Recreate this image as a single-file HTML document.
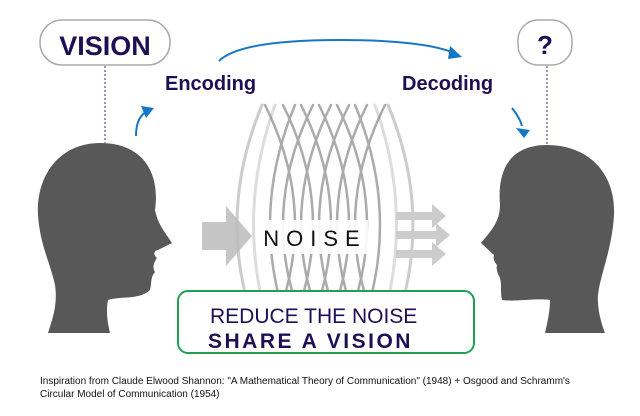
<!DOCTYPE html>
<html><head><style>
html,body{margin:0;padding:0;background:#fff;width:640px;height:416px;overflow:hidden;font-family:"Liberation Sans",sans-serif}
</style></head><body>
<svg width="640" height="416" viewBox="0 0 640 416" xmlns="http://www.w3.org/2000/svg">
<g fill="none" stroke-linecap="round">
  <g stroke="#ccc" stroke-width="3">
    <path d="M262 105 Q212 225 262 345"/>
    <path d="M388 105 Q438 225 388 345"/>
    <path d="M275 105 Q232 225 275 345" stroke="#ddd"/>
    <path d="M375 105 Q418 225 375 345" stroke="#ddd"/>
  </g>
  <g stroke="#888" stroke-width="2.5" opacity="0.7">
    <path d="M265 105 Q325 225 265 345"/><path d="M283 105 Q343 225 283 345"/><path d="M301 105 Q361 225 301 345"/><path d="M319 105 Q379 225 319 345"/><path d="M337 105 Q397 225 337 345"/><path d="M355 105 Q405 225 355 345"/>
    <path d="M385 105 Q325 225 385 345"/><path d="M367 105 Q307 225 367 345"/><path d="M349 105 Q289 225 349 345"/><path d="M331 105 Q271 225 331 345"/><path d="M313 105 Q253 225 313 345"/><path d="M295 105 Q245 225 295 345"/>
  </g>
</g>
<polygon points="202,222 226,222 226,206 252,236 226,266 226,250 202,250" fill="#bbb" opacity="0.85"/>
<g fill="#ccc">
<polygon points="396,212 432,212 432,204 446,216 432,228 432,220 396,220"/>
<polygon points="396,231 436,231 436,223 450,235 436,247 436,239 396,239"/>
<polygon points="396,250 432,250 432,242 446,254 432,266 432,258 396,258"/>
</g>
<rect x="262" y="220" width="106" height="34" fill="#fff" opacity="0.9"/>
<text x="315" y="246" text-anchor="middle" font-size="22" letter-spacing="7" fill="#111">NOISE</text>
<path d="M100 143 C60 143 36 175 38 215 C40 245 50 262 55 285 C58 305 52 320 48 333 L110 333 C107 320 106 310 108 300 C120 296 140 300 150 290 C152 283 150 278 155 272 C152 268 154 262 157 258 C152 254 155 250 158 250 L172 243 C165 232 158 225 155 210 C160 175 145 143 100 143 Z" fill="#585858"/>
<path d="M547 145 C590 145 616 175 614 215 C612 250 600 275 598 295 C597 310 602 325 605 333 L545 333 C548 320 550 310 550 300 C535 298 515 302 502 300 C500 292 502 285 500 278 C497 272 496 268 497 265 C494 262 493 258 494 255 L481 243 C490 232 500 222 500 205 C497 170 510 145 547 145Z" fill="#585858"/>
<rect x="40" y="20" width="130" height="45" rx="22" fill="#fff" stroke="#aaa" stroke-width="1.5"/>
<text x="105" y="55" text-anchor="middle" font-size="27" font-weight="bold" fill="#1e0f55">VISION</text>
<rect x="518" y="20" width="54" height="45" rx="20" fill="#fff" stroke="#aaa" stroke-width="1.5"/>
<text x="545" y="54" text-anchor="middle" font-size="26" font-weight="bold" fill="#1e0f55">?</text>
<line x1="105" y1="66" x2="105" y2="143" stroke="#3a2a80" stroke-width="1" stroke-dasharray="2,2"/>
<line x1="547" y1="66" x2="547" y2="145" stroke="#3a2a80" stroke-width="1" stroke-dasharray="2,2"/>
<text x="165" y="90" font-size="20" font-weight="bold" fill="#1e0f55">Encoding</text>
<text x="402" y="90" font-size="20" font-weight="bold" fill="#1e0f55">Decoding</text>
<g fill="none" stroke="#1677c4" stroke-width="2">
<path d="M136 136 Q136 118 146 112"/>
<path d="M219 61 Q240 40 340 40 Q420 40 452 52"/>
<path d="M512 108 Q520 118 522 126"/>
</g>
<g fill="#1677c4">
<polygon points="141,106 154,108 146,118"/>
<polygon points="450,46 462,57 448,59"/>
<polygon points="516,128 530,130 524,138"/>
</g>
<rect x="178" y="291" width="296" height="62" rx="10" fill="#fff" stroke="#20a050" stroke-width="2"/>
<text x="210" y="323" font-size="21" fill="#1e0f55">REDUCE THE NOISE</text>
<text x="208" y="348" font-size="21" font-weight="bold" letter-spacing="2.5" fill="#1e0f55">SHARE A VISION</text>
<text x="40" y="384" font-size="10" fill="#111">Inspiration from Claude Elwood Shannon: "A Mathematical Theory of Communication" (1948) + Osgood and Schramm's</text>
<text x="40" y="397" font-size="10" fill="#111">Circular Model of Communication (1954)</text>
</svg>
</body></html>
